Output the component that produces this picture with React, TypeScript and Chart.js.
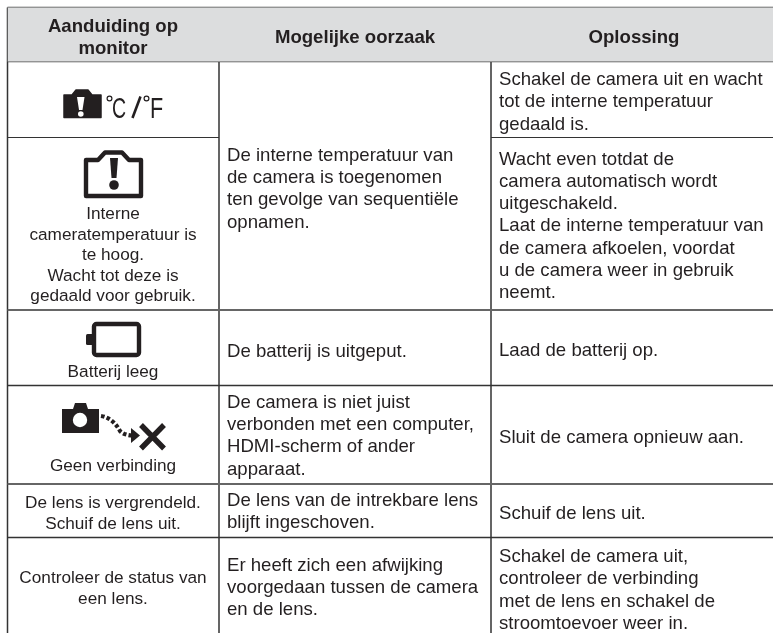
import React, { useEffect, useRef } from "react";
import { Chart, registerables } from "chart.js";

Chart.register(...registerables);

const WIDTH = 773;
const HEIGHT = 633;

// Table structure
const columnEdges = [7.5, 219, 491];
const tableRight = 773;
const tableBottom = 633;
const rowEdges = [7.5, 61.5, 137.5, 310, 385.5, 484, 537.5];

// Text content
const headers = [["Aanduiding op", "monitor"], ["Mogelijke oorzaak"], ["Oplossing"]];
const monitorTexts = [
  ["Interne", "cameratemperatuur is", "te hoog.", "Wacht tot deze is", "gedaald voor gebruik."],
  ["Batterij leeg"],
  ["Geen verbinding"],
  ["De lens is vergrendeld.", "Schuif de lens uit."],
  ["Controleer de status van", "een lens."],
];
const causeTexts = [
  ["De interne temperatuur van", "de camera is toegenomen", "ten gevolge van sequentiële", "opnamen."],
  ["De batterij is uitgeput."],
  ["De camera is niet juist", "verbonden met een computer,", "HDMI-scherm of ander", "apparaat."],
  ["De lens van de intrekbare lens", "blijft ingeschoven."],
  ["Er heeft zich een afwijking", "voorgedaan tussen de camera", "en de lens."],
];
const solutionTexts = [
  ["Schakel de camera uit en wacht", "tot de interne temperatuur", "gedaald is."],
  ["Wacht even totdat de", "camera automatisch wordt", "uitgeschakeld.", "Laat de interne temperatuur van", "de camera afkoelen, voordat", "u de camera weer in gebruik", "neemt."],
  ["Laad de batterij op."],
  ["Sluit de camera opnieuw aan."],
  ["Schuif de lens uit."],
  ["Schakel de camera uit,", "controleer de verbinding", "met de lens en schakel de", "stroomtoevoer weer in."],
];

// First baselines of each block, in the table's coordinate space
const headerBaselines = [32.3, 42.5, 42.5];
const headerCentres = [113, 355, 634];
const monitorBaselines = [219, 377, 471, 508, 583];
const causeBaselines = [160.5, 356.5, 407.5, 505.5, 570.5];
const solutionBaselines = [85, 164.5, 356, 442.5, 519, 562];

const INK = "#231f20";
const RULE = "#333333";
const RULE_SOFT = "#666666";
const HEADER_FILL = "#dcddde";
const bodyFont = '18.6px "Liberation Sans"';
const smallFont = '17.2px "Liberation Sans"';
const headFont = 'bold 18.6px "Liberation Sans"';

type Ctx = CanvasRenderingContext2D;

function drawFilledCameraWarning(c: Ctx, X: (v: number) => number, Y: (v: number) => number) {
  c.fillStyle = INK;
  c.strokeStyle = INK;
  c.lineJoin = "round";
  c.lineWidth = 1.5;
  c.beginPath();
  c.moveTo(X(64), Y(95));
  c.lineTo(X(72), Y(95));
  c.lineTo(X(76), Y(90));
  c.lineTo(X(88), Y(90));
  c.lineTo(X(92), Y(95));
  c.lineTo(X(101), Y(95));
  c.lineTo(X(101), Y(117.5));
  c.lineTo(X(64), Y(117.5));
  c.closePath();
  c.fill();
  c.stroke();
  c.fillStyle = "#fff";
  c.beginPath();
  c.moveTo(X(77), Y(97));
  c.lineTo(X(84.5), Y(97));
  c.lineTo(X(82.5), Y(110));
  c.lineTo(X(79), Y(110));
  c.closePath();
  c.fill();
  c.beginPath();
  c.arc(X(80.8), Y(114), 2.8, 0, Math.PI * 2);
  c.fill();
  // °C/°F
  c.strokeStyle = INK;
  c.lineWidth = 1.2;
  for (const x of [109.5, 146.5]) {
    c.beginPath();
    c.arc(X(x), Y(98.5), 2.4, 0, Math.PI * 2);
    c.stroke();
  }
  c.fillStyle = INK;
  c.textAlign = "left";
  c.textBaseline = "alphabetic";
  c.save();
  c.font = '30px "Liberation Sans"';
  c.translate(X(112), Y(118));
  c.scale(0.65, 1);
  c.fillText("C", 0, 0);
  c.restore();
  c.lineWidth = 2.6;
  c.beginPath();
  c.moveTo(X(132.5), Y(118));
  c.lineTo(X(140.5), Y(96.5));
  c.stroke();
  c.save();
  c.font = '30px "Liberation Sans"';
  c.translate(X(150), Y(118));
  c.scale(0.72, 1);
  c.fillText("F", 0, 0);
  c.restore();
}

function drawOutlineCameraWarning(c: Ctx, X: (v: number) => number, Y: (v: number) => number) {
  c.strokeStyle = INK;
  c.lineWidth = 4.4;
  c.lineJoin = "round";
  c.beginPath();
  c.moveTo(X(86), Y(160));
  c.lineTo(X(98), Y(160));
  c.lineTo(X(105), Y(152.5));
  c.lineTo(X(122), Y(152.5));
  c.lineTo(X(129), Y(160));
  c.lineTo(X(141), Y(160));
  c.lineTo(X(141), Y(196));
  c.lineTo(X(86), Y(196));
  c.closePath();
  c.stroke();
  c.fillStyle = INK;
  c.beginPath();
  c.moveTo(X(110), Y(158));
  c.lineTo(X(118), Y(158));
  c.lineTo(X(116.5), Y(178));
  c.lineTo(X(111.5), Y(178));
  c.closePath();
  c.fill();
  c.beginPath();
  c.arc(X(114), Y(185), 4.8, 0, Math.PI * 2);
  c.fill();
}

function drawBattery(c: Ctx, X: (v: number) => number, Y: (v: number) => number) {
  c.strokeStyle = INK;
  c.lineWidth = 4.4;
  c.beginPath();
  c.roundRect(X(94), Y(324), X(139) - X(94), Y(355) - Y(324), 2.5);
  c.stroke();
  c.fillStyle = INK;
  c.beginPath();
  c.roundRect(X(86), Y(334), 8, 11, 1.5);
  c.fill();
}

function drawNoConnection(c: Ctx, X: (v: number) => number, Y: (v: number) => number) {
  c.fillStyle = INK;
  c.beginPath();
  c.moveTo(X(62), Y(409));
  c.lineTo(X(73), Y(409));
  c.lineTo(X(75), Y(403));
  c.lineTo(X(86), Y(403));
  c.lineTo(X(88), Y(409));
  c.lineTo(X(99), Y(409));
  c.lineTo(X(99), Y(433));
  c.lineTo(X(62), Y(433));
  c.closePath();
  c.fill();
  c.fillStyle = "#fff";
  c.beginPath();
  c.arc(X(80), Y(420), 7.2, 0, Math.PI * 2);
  c.fill();
  c.strokeStyle = INK;
  c.lineWidth = 4.2;
  c.setLineDash([3.6, 2.2]);
  c.beginPath();
  c.moveTo(X(101), Y(416));
  c.quadraticCurveTo(X(113), Y(418), X(120), Y(431));
  c.quadraticCurveTo(X(124), Y(435), X(132), Y(435.5));
  c.stroke();
  c.setLineDash([]);
  c.fillStyle = INK;
  c.beginPath();
  c.moveTo(X(131), Y(428));
  c.lineTo(X(140), Y(435.5));
  c.lineTo(X(131), Y(443));
  c.closePath();
  c.fill();
  c.lineWidth = 5.4;
  c.beginPath();
  c.moveTo(X(141), Y(425));
  c.lineTo(X(164), Y(448.5));
  c.moveTo(X(164), Y(425));
  c.lineTo(X(141), Y(448.5));
  c.stroke();
}

function blocks(
  c: Ctx,
  texts: string[][],
  baselines: number[],
  x: number,
  step: number,
  align: CanvasTextAlign,
  X: (v: number) => number,
  Y: (v: number) => number,
) {
  c.textAlign = align;
  texts.forEach((lines, i) => {
    lines.forEach((line, j) => c.fillText(line, X(x), Y(baselines[i] + j * step)));
  });
}

const tablePlugin = {
  id: "tableText",
  afterDatasetsDraw(chart: any) {
    const c: Ctx = chart.ctx;
    const X = (v: number) => chart.scales.x.getPixelForValue(v);
    const Y = (v: number) => chart.scales.y.getPixelForValue(v);
    c.save();
    c.fillStyle = INK;
    c.textBaseline = "alphabetic";
    c.font = headFont;
    c.textAlign = "center";
    headers.forEach((lines, i) =>
      lines.forEach((line, j) => c.fillText(line, X(headerCentres[i]), Y(headerBaselines[i] + j * 22))),
    );
    c.font = smallFont;
    blocks(c, monitorTexts, monitorBaselines, 113, 20.6, "center", X, Y);
    c.font = bodyFont;
    blocks(c, causeTexts, causeBaselines, 227, 22.4, "left", X, Y);
    blocks(c, solutionTexts, solutionBaselines, 499, 22.3, "left", X, Y);
    drawFilledCameraWarning(c, X, Y);
    drawOutlineCameraWarning(c, X, Y);
    drawBattery(c, X, Y);
    drawNoConnection(c, X, Y);
    c.restore();
  },
};

function rule(x1: number, y1: number, x2: number, y2: number, width: number, color = RULE) {
  return {
    type: "scatter" as const,
    data: [{ x: x1, y: y1 }, { x: x2, y: y2 }],
    showLine: true,
    borderColor: color,
    borderWidth: width,
    pointRadius: 0,
    fill: false,
  };
}

export default function App() {
  const ref = useRef<HTMLCanvasElement>(null);
  useEffect(() => {
    document.body.style.margin = "0";
    const [c0, c1, c2] = columnEdges;
    const [r0, r1, r2, r3, r4, r5, r6] = rowEdges;
    const rules = [
      rule(c0, r0, tableRight, r0, 1.6, "#4a4a4a"),
      rule(c0, r1, tableRight, r1, 1.6, "#4a4a4a"),
      rule(c0, r2, c1, r2, 1.2),
      rule(c2, r2, tableRight, r2, 1.2),
      rule(c0, r3, tableRight, r3, 1.9, RULE_SOFT),
      rule(c0, r4, tableRight, r4, 1.3),
      rule(c0, r5, tableRight, r5, 1.9, RULE_SOFT),
      rule(c0, r6, tableRight, r6, 1.3),
      rule(c0, r0, c0, tableBottom, 1.5),
      rule(c1, r0, c1, tableBottom, 1.5),
      rule(c2, r0, c2, tableBottom, 1.5),
    ];
    const chart = new Chart(ref.current!, {
      type: "scatter",
      data: {
        datasets: [
          {
            data: [{ x: c0, y: r0 }, { x: tableRight, y: r0 }],
            showLine: true,
            borderWidth: 0,
            pointRadius: 0,
            backgroundColor: HEADER_FILL,
            fill: { target: { value: r1 } },
          } as any,
          ...rules,
        ],
      },
      options: {
        animation: false,
        responsive: false,
        layout: { padding: 0 },
        plugins: { legend: { display: false }, tooltip: { enabled: false } },
        scales: {
          x: { type: "linear", min: 0, max: WIDTH, display: false },
          y: { type: "linear", min: 0, max: HEIGHT, reverse: true, display: false },
        },
      },
      plugins: [tablePlugin],
    });
    return () => chart.destroy();
  }, []);
  return (
    <canvas
      ref={ref}
      width={WIDTH}
      height={HEIGHT}
      style={{ display: "block", width: WIDTH, height: HEIGHT, filter: "blur(0.35px)" }}
    />
  );
}
